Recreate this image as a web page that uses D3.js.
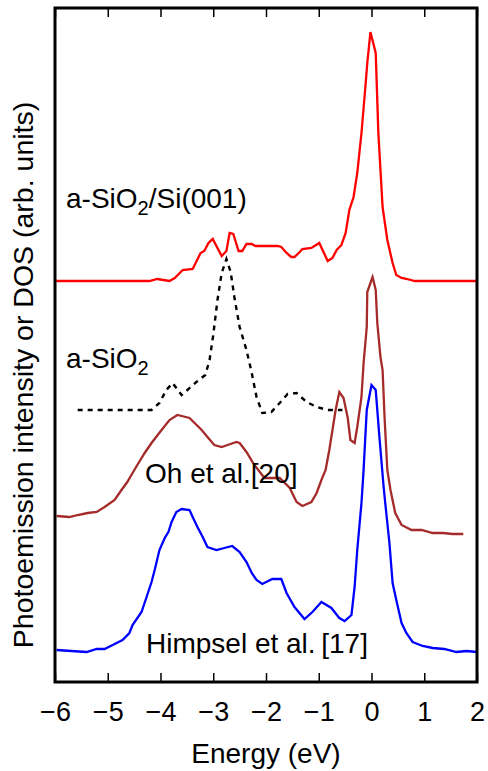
<!DOCTYPE html>
<html>
<head>
<meta charset="utf-8">
<script src="https://cdn.jsdelivr.net/npm/d3@7"></script>
<style>
  body { margin: 0; background: #fff; }
  text { font-family: "Liberation Sans", Arial, sans-serif; }
</style>
</head>
<body>
<svg id="dos-chart" width="488" height="771"></svg>
<script>
// energy (eV), intensity (arb. units, curves offset vertically)
const sioSiCurve = [[-6.0,8.02],[-4.21,8.02],[-4.06,8.06],[-3.83,8.02],[-3.73,8.08],[-3.58,8.24],[-3.39,8.26],[-3.24,8.58],[-3.17,8.62],[-3.09,8.78],[-3.01,8.86],[-2.84,8.52],[-2.75,8.62],[-2.69,8.98],[-2.62,8.96],[-2.52,8.62],[-2.45,8.62],[-2.37,8.76],[-2.27,8.76],[-2.20,8.72],[-2.07,8.72],[-1.93,8.72],[-1.78,8.72],[-1.71,8.70],[-1.61,8.58],[-1.52,8.50],[-1.46,8.50],[-1.36,8.60],[-1.31,8.66],[-1.14,8.68],[-0.99,8.78],[-0.83,8.42],[-0.74,8.48],[-0.66,8.64],[-0.57,8.74],[-0.49,8.98],[-0.42,9.44],[-0.34,9.70],[-0.27,10.18],[-0.19,10.98],[-0.11,11.98],[-0.08,12.38],[-0.02,13.00],[0.08,12.58],[0.13,10.98],[0.21,9.50],[0.30,8.84],[0.40,8.38],[0.47,8.14],[0.57,8.08],[0.68,8.06],[0.82,8.02],[2.0,8.02]];
const sio2Curve = [[-5.57,5.44],[-4.17,5.44],[-4.02,5.58],[-3.89,5.84],[-3.77,5.98],[-3.60,5.74],[-3.49,5.84],[-3.32,6.00],[-3.15,6.14],[-3.07,6.44],[-3.00,6.94],[-2.92,7.64],[-2.84,8.18],[-2.75,8.46],[-2.67,8.20],[-2.60,7.70],[-2.50,7.10],[-2.37,6.64],[-2.27,6.18],[-2.18,5.70],[-2.07,5.38],[-1.90,5.40],[-1.74,5.58],[-1.59,5.76],[-1.42,5.78],[-1.23,5.60],[-1.04,5.50],[-0.83,5.44],[-0.55,5.44]];
const ohCurve = [[-5.97,3.32],[-5.73,3.30],[-5.57,3.34],[-5.38,3.38],[-5.21,3.40],[-5.06,3.50],[-4.87,3.64],[-4.74,3.84],[-4.63,4.00],[-4.53,4.18],[-4.44,4.34],[-4.30,4.58],[-4.17,4.78],[-3.98,5.04],[-3.83,5.24],[-3.68,5.34],[-3.45,5.28],[-3.22,5.04],[-3.11,4.90],[-2.98,4.74],[-2.84,4.70],[-2.73,4.74],[-2.56,4.80],[-2.50,4.78],[-2.37,4.60],[-2.22,4.34],[-2.03,4.08],[-1.74,4.08],[-1.55,3.88],[-1.42,3.60],[-1.31,3.52],[-1.14,3.60],[-1.04,3.78],[-0.95,4.04],[-0.87,4.24],[-0.80,4.64],[-0.74,5.04],[-0.68,5.44],[-0.61,5.80],[-0.53,5.68],[-0.45,5.28],[-0.40,4.84],[-0.32,4.78],[-0.27,5.10],[-0.19,5.70],[-0.15,6.38],[-0.09,7.10],[-0.08,7.80],[0.02,8.10],[0.08,7.84],[0.11,7.18],[0.17,6.50],[0.21,6.24],[0.25,5.24],[0.30,4.24],[0.36,3.84],[0.45,3.38],[0.57,3.14],[0.76,3.04],[0.95,3.04],[1.16,2.98],[1.35,2.98],[1.54,2.96],[1.74,2.96]];
const himpselCurve = [[-5.97,0.64],[-5.69,0.62],[-5.40,0.60],[-5.21,0.66],[-5.06,0.66],[-4.87,0.76],[-4.72,0.84],[-4.59,0.98],[-4.53,1.14],[-4.36,1.40],[-4.27,1.68],[-4.17,2.00],[-4.11,2.24],[-4.02,2.64],[-3.92,2.88],[-3.85,3.00],[-3.79,3.20],[-3.70,3.40],[-3.60,3.46],[-3.45,3.44],[-3.39,3.30],[-3.30,3.10],[-3.20,2.90],[-3.11,2.70],[-2.94,2.64],[-2.79,2.68],[-2.64,2.72],[-2.50,2.60],[-2.37,2.40],[-2.27,2.18],[-2.18,2.04],[-2.07,1.96],[-1.88,2.06],[-1.71,2.06],[-1.61,1.78],[-1.46,1.50],[-1.27,1.26],[-1.12,1.40],[-0.95,1.60],[-0.76,1.48],[-0.61,1.28],[-0.51,1.22],[-0.38,1.34],[-0.32,1.90],[-0.27,2.64],[-0.19,3.58],[-0.15,4.24],[-0.09,5.44],[0.00,5.94],[0.08,5.84],[0.15,4.90],[0.23,3.90],[0.28,3.38],[0.34,2.78],[0.40,1.98],[0.47,1.64],[0.57,1.18],[0.66,0.98],[0.78,0.80],[0.97,0.72],[1.16,0.68],[1.38,0.66],[1.61,0.60],[1.80,0.62],[2.0,0.60]];

const energyTicks = [-6, -5, -4, -3, -2, -1, 0, 1, 2];

const svg = d3.select("#dos-chart"),
    margin = {top: 8, right: 11, bottom: 89, left: 55},
    width = +svg.attr("width") - margin.left - margin.right,
    height = +svg.attr("height") - margin.top - margin.bottom,
    g = svg.append("g").attr("transform", "translate(" + margin.left + "," + margin.top + ")");

const x = d3.scaleLinear().domain([-6, 2]).range([0, width]);
const y = d3.scaleLinear().domain([0, 13.48]).range([height, 0]);

const line = d3.line()
    .x(function(d) { return x(d[0]); })
    .y(function(d) { return y(d[1]); });

const curves = [
  {data: sioSiCurve, color: "#ff0000", dash: null},
  {data: sio2Curve, color: "#000000", dash: "5,5"},
  {data: ohCurve, color: "#a52a2a", dash: null},
  {data: himpselCurve, color: "#0000ff", dash: null}
];

g.selectAll("path.curve")
  .data(curves)
  .enter().append("path")
    .attr("class", "curve")
    .attr("d", function(d) { return line(d.data); })
    .attr("fill", "none")
    .attr("stroke", function(d) { return d.color; })
    .attr("stroke-width", function(d) { return d.dash ? 2.4 : 2.3; })
    .attr("stroke-dasharray", function(d) { return d.dash; });

// ticks inward on bottom and top
g.append("g")
    .attr("transform", "translate(0," + height + ")")
    .call(d3.axisBottom(x).tickValues(energyTicks).tickSizeInner(-9).tickSizeOuter(0).tickPadding(20))
    .call(function(a) {
      a.select(".domain").remove();
      a.selectAll("line").attr("stroke-width", 1.5);
      a.selectAll("text").attr("font-size", 27).attr("font-family", "Liberation Sans, Arial, sans-serif").attr("fill", "#000");
    });

g.append("g")
    .call(d3.axisTop(x).tickValues(energyTicks).tickSizeInner(-9).tickSizeOuter(0).tickFormat(""))
    .call(function(a) {
      a.select(".domain").remove();
      a.selectAll("line").attr("stroke-width", 1.5);
    });

g.append("rect")
    .attr("width", width)
    .attr("height", height)
    .attr("fill", "none")
    .attr("stroke", "#000")
    .attr("stroke-width", 3);

// curve labels
function label(xPos, yPos, parts) {
  const t = g.append("text")
      .attr("x", xPos)
      .attr("y", yPos)
      .attr("font-size", 28)
      .attr("fill", "#000");
  parts.forEach(function(p) {
    if (p.sub) {
      t.append("tspan").attr("dy", 7).attr("font-size", 20).text(p.text);
    } else {
      t.append("tspan").attr("dy", p.after ? -7 : 0).text(p.text);
    }
  });
}

label(11, 200, [{text: "a-SiO"}, {text: "2", sub: true}, {text: "/Si(001)", after: true}]);
label(11, 360, [{text: "a-SiO"}, {text: "2", sub: true}]);
label(90, 475, [{text: "Oh et al.[20]"}]);
label(91, 645, [{text: "Himpsel et al.\u2009[17]"}]);

svg.append("text")
    .attr("x", margin.left + width / 2)
    .attr("y", 763)
    .attr("text-anchor", "middle")
    .attr("font-size", 28)
    .text("Energy (eV)");

svg.append("text")
    .attr("transform", "translate(33,375) rotate(-90)")
    .attr("text-anchor", "middle")
    .attr("font-size", 28.5)
    .text("Photoemission intensity or DOS (arb. units)");
</script>
</body>
</html>
